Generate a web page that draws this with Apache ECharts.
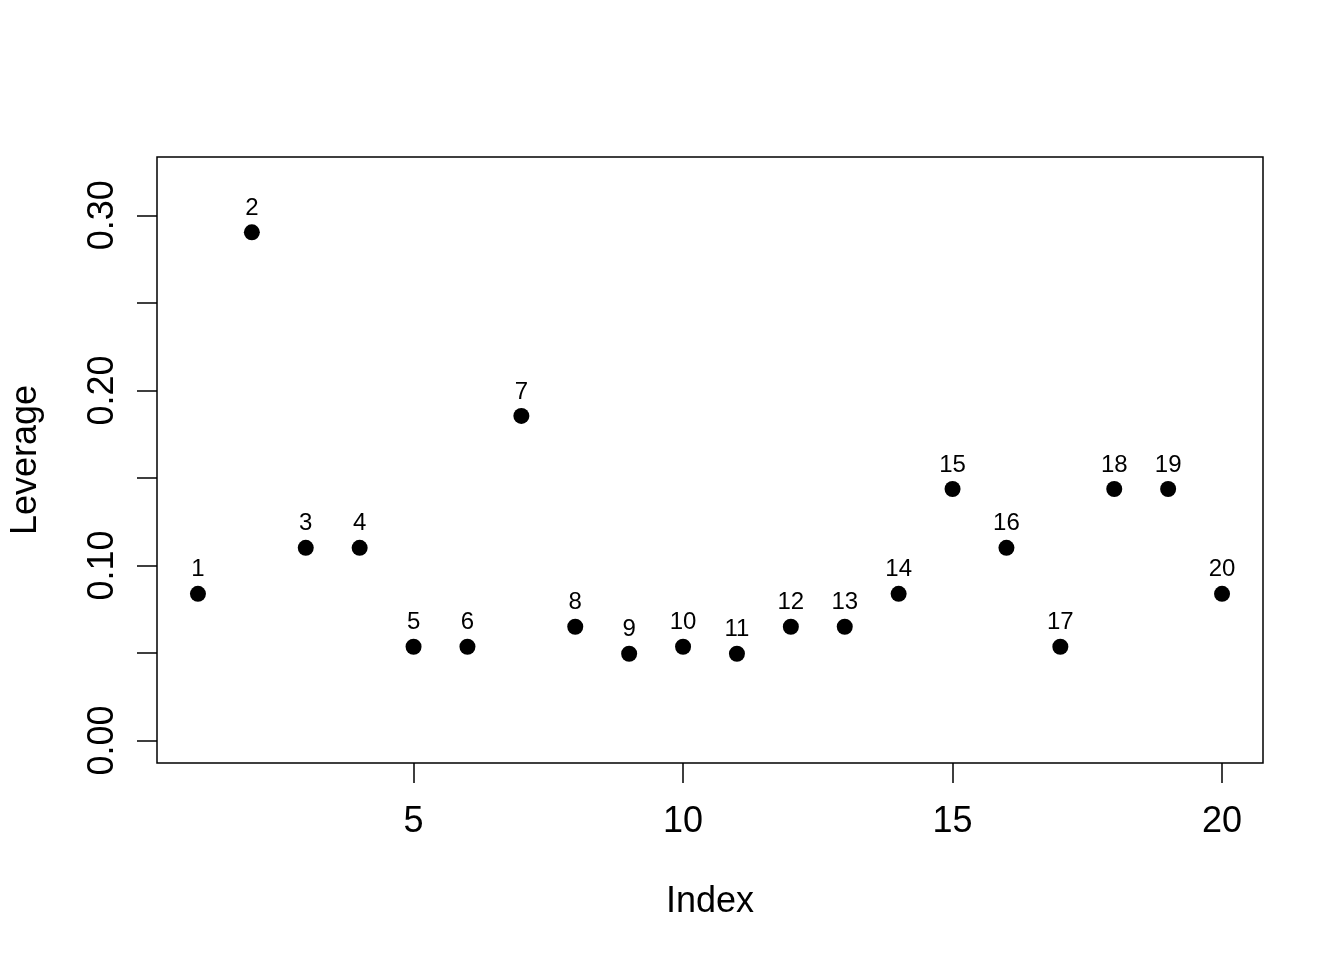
<!DOCTYPE html>
<html>
<head>
<meta charset="utf-8">
<script src="https://cdn.jsdelivr.net/npm/echarts@6/dist/echarts.min.js"></script>
<style>
html,body{margin:0;padding:0;background:#fff;}
#chart{width:1344px;height:960px;}
</style>
</head>
<body>
<div id="chart"></div>
<script>
const indices = [1,2,3,4,5,6,7,8,9,10,11,12,13,14,15,16,17,18,19,20];
const leverage = [0.0838,0.2903,0.1101,0.1101,0.0536,0.0536,0.1854,0.0650,0.0496,0.0536,
                  0.0496,0.0650,0.0650,0.0838,0.1437,0.1101,0.0536,0.1437,0.1437,0.0838];
const pointLabels = ["1","2","3","4","5","6","7","8","9","10","11","12","13","14","15","16","17","18","19","20"];
const xTicks = [5,10,15,20];
const yTicks = [0,0.05,0.10,0.15,0.20,0.25,0.30];
const yLabelTicks = [0,0.10,0.20,0.30];

const FONT = 'Liberation Sans, Arial, Helvetica, sans-serif';
const chart = echarts.init(document.getElementById('chart'), null, {renderer:'canvas'});
const data = indices.map((x,i)=>({value:[x, leverage[i]], name: pointLabels[i]}));

chart.setOption({
  animation:false,
  backgroundColor:'#fff',
  grid:{left:157, right:81, top:157, bottom:197, show:true, borderColor:'#000', borderWidth:1.5,
        backgroundColor:'transparent', containLabel:false, outerBoundsMode:'none'},
  xAxis:{
    type:'value', min:0.24, max:20.76,
    name:'Index', nameLocation:'middle', nameGap:121,
    nameTextStyle:{fontFamily:FONT, fontSize:36, color:'#000'},
    axisLine:{show:false, onZero:false},
    splitLine:{show:false},
    axisTick:{show:true, inside:false, length:20, customValues:xTicks, lineStyle:{color:'#000', width:1.5}},
    axisLabel:{show:true, customValues:xTicks, margin:41, fontFamily:FONT, fontSize:36, color:'#000', formatter:(v)=>String(v)}
  },
  yAxis:{
    type:'value', min:-0.0128, max:0.3333,
    name:'Leverage', nameLocation:'middle', nameGap:113, nameRotate:90,
    nameTextStyle:{fontFamily:FONT, fontSize:36, color:'#000'},
    axisLine:{show:false, onZero:false},
    splitLine:{show:false},
    axisTick:{show:true, inside:false, length:20, customValues:yTicks, lineStyle:{color:'#000', width:1.5}},
    axisLabel:{show:true, customValues:yLabelTicks, rotate:90, margin:36, fontFamily:FONT, fontSize:36, color:'#000', formatter:(v)=>v.toFixed(2)}
  },
  series:[{
    type:'scatter',
    data:data,
    symbol:'circle', symbolSize:16,
    itemStyle:{color:'#000', opacity:1},
    emphasis:{disabled:true},
    label:{show:true, position:'top', distance:4, formatter:(p)=>p.name, fontFamily:FONT, fontSize:24, color:'#000'}
  }]
});
</script>
</body>
</html>
